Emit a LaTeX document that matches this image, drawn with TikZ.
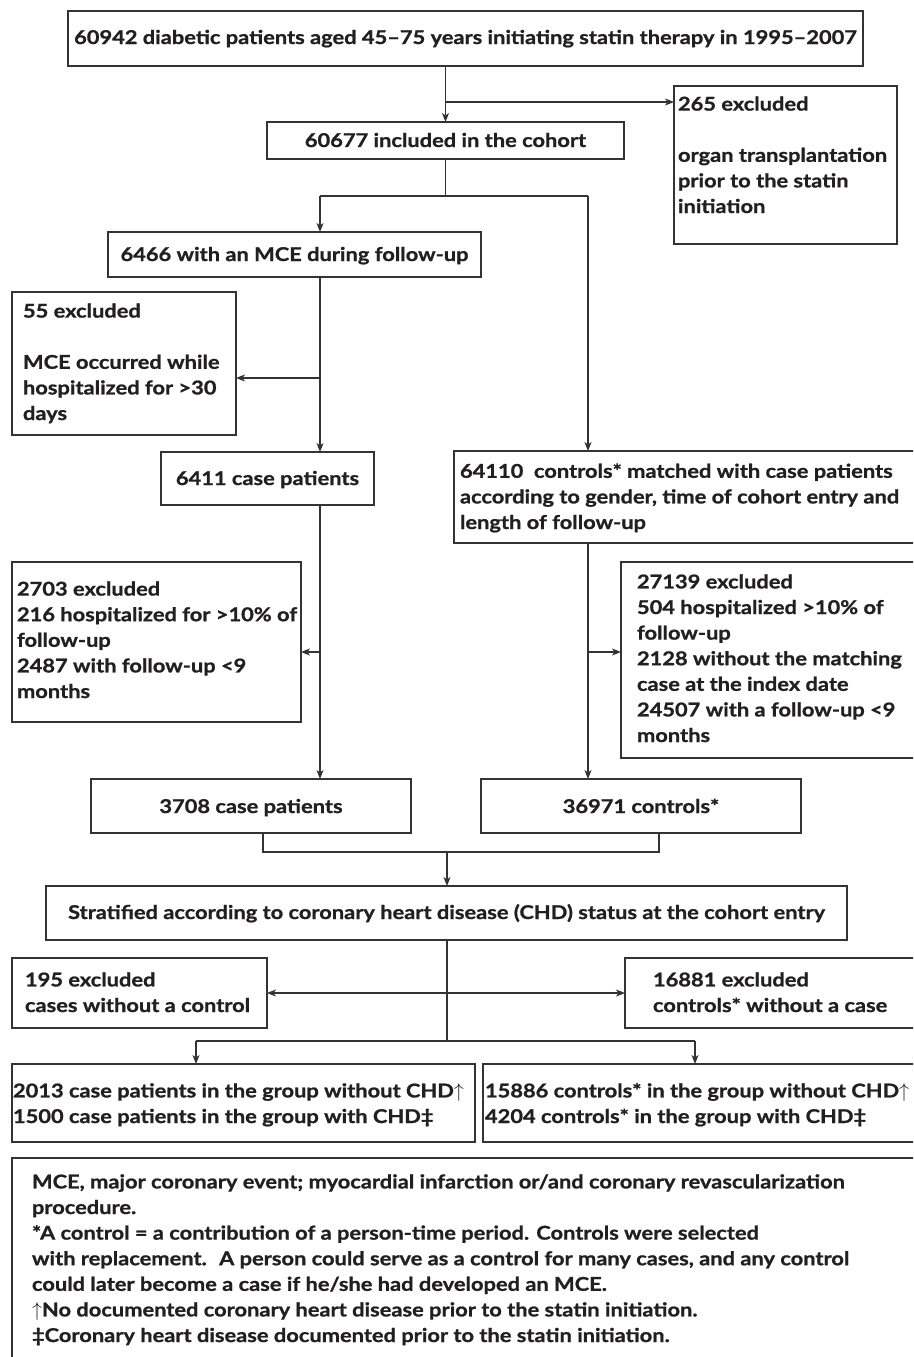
\RequirePackage{fix-cm}
\documentclass[tikz,border=0pt]{standalone}
\usepackage{fontspec}
\setmainfont{Lato}[FakeStretch=1.15,BoldFeatures={FakeStretch=1.15,FakeBold=1}]
\usetikzlibrary{arrows.meta}
\definecolor{ink}{HTML}{231F20}
\definecolor{edge}{HTML}{333333}
\newcommand{\fs}{\fontsize{19}{25.6}\selectfont\bfseries}
\newcommand{\upmark}{{\fontsize{20}{20}\selectfont$\uparrow$}}
\begin{document}
\begin{tikzpicture}[x=1pt,y=-1pt,
  box/.style={draw=edge,line width=1.2pt,rectangle,inner sep=0pt,outer sep=0pt},
  txt/.style={inner sep=0pt,outer sep=0pt,anchor=base west,align=left,font=\fs,text=ink},
  ctxt/.style={inner sep=0pt,outer sep=0pt,anchor=base,font=\fs,text=ink},
  link/.style={draw=edge,line width=1.1pt},
  arr/.style={link,-{Stealth[length=9pt,width=7pt,inset=2.5pt]}},
  darr/.style={link,{Stealth[length=9pt,width=7pt,inset=2.5pt]}-{Stealth[length=9pt,width=7pt,inset=2.5pt]}}
]
\useasboundingbox (0,0) rectangle (913,1357);
\fill[white] (0,0) rectangle (913,1357);
\clip (0,0) rectangle (913,1357);

% boxes
\node[box,minimum width=795pt,minimum height=55pt] (b1) at (465.5,38.5) {};
\node[box,minimum width=357pt,minimum height=37pt] (b2) at (445.5,140.5) {};
\node[box,minimum width=223pt,minimum height=158pt] (ex1) at (785.5,165) {};
\node[box,minimum width=373pt,minimum height=45pt] (b3) at (294.5,254.5) {};
\node[box,minimum width=224pt,minimum height=143pt] (ex2) at (124,363.5) {};
\node[box,minimum width=213pt,minimum height=53pt] (b4) at (267.5,478.5) {};
\node[box,minimum width=486pt,minimum height=92pt] (ctrl) at (697,497) {};
\node[box,minimum width=289pt,minimum height=160pt] (ex3) at (156.5,642) {};
\node[box,minimum width=319pt,minimum height=196pt] (ex4) at (780.5,660) {};
\node[box,minimum width=320pt,minimum height=54pt] (b5) at (251,806) {};
\node[box,minimum width=320pt,minimum height=54pt] (b6) at (641,806) {};
\node[box,minimum width=801pt,minimum height=54pt] (strat) at (446.5,913) {};
\node[box,minimum width=255pt,minimum height=70pt] (ex5) at (139.5,993) {};
\node[box,minimum width=315pt,minimum height=70pt] (ex6) at (782.5,993) {};
\node[box,minimum width=463pt,minimum height=78pt] (g1) at (243.5,1103) {};
\node[box,minimum width=457pt,minimum height=78pt] (g2) at (711.5,1103) {};
\node[box,minimum width=928pt,minimum height=242pt] (foot) at (476,1279) {};

% texts (multi-line nodes are anchored at the baseline of their last line)
\node[ctxt] (t1) at (465.5,44) {60942 diabetic patients aged 45–75 years initiating statin therapy in 1995–2007};
\node[ctxt] (t2) at (445.5,147) {60677 included in the cohort};
\node[txt] (tex1) at (678,213) {265 excluded\\[25.6pt]organ transplantation\\prior to the statin\\initiation};
\node[ctxt] (t3) at (294.5,261) {6466 with an MCE during follow-up};
\node[txt] (tex2) at (23,420) {55 excluded\\[25.6pt]MCE occurred while\\hospitalized for >30\\days};
\node[ctxt] (t4) at (267.5,485) {6411 case patients};
\node[txt] (tctrl) at (460,529) {64110~ controls* matched with case patients\\according to gender, time of cohort entry and\\length of follow-up};
\node[txt] (tex3) at (17,698) {2703 excluded\\216 hospitalized for >10\% of\\follow-up\\2487 with follow-up <9\\months};
\node[txt] (tex4) at (637,742) {27139 excluded\\504 hospitalized >10\% of\\follow-up\\2128 without the matching\\case at the index date\\24507 with a follow-up <9\\months};
\node[ctxt] (t5) at (251,813) {3708 case patients};
\node[ctxt] (t6) at (641,813) {36971 controls*};
\node[ctxt] (tstrat) at (446.5,919) {Stratified according to coronary heart disease (CHD) status at the cohort entry};
\node[txt] (tex5) at (25,1012) {195 excluded\\cases without a control};
\node[txt] (tex6) at (653,1012) {16881 excluded\\controls* without a case};
\node[txt] (tg1) at (13,1123) {2013 case patients in the group without CHD\upmark\\1500 case patients in the group with CHD‡};
\node[txt] (tg2) at (485,1123) {15886 controls* in the group without CHD\upmark\\4204 controls* in the group with CHD‡};
\node[txt] (tfoot) at (32,1342) {MCE, major coronary event; myocardial infarction or/and coronary revascularization\\procedure.\\*A control = a contribution of a person-time period. Controls were selected\\with replacement.~ A person could serve as a control for many cases, and any control\\could later become a case if he/she had developed an MCE.\\\upmark No documented coronary heart disease prior to the statin initiation.\\‡Coronary heart disease documented prior to the statin initiation.};

% junction coordinates
\coordinate (j1) at (445.5,102);
\coordinate (j2) at (445.5,196);
\coordinate (j2L) at (320,196);
\coordinate (j2R) at (588,196);
\coordinate (j3) at (320,378);
\coordinate (j4) at (320,652);
\coordinate (j5) at (588,652);
\coordinate (j6L) at (263,852);
\coordinate (j6R) at (659,852);
\coordinate (j6) at (447,852);
\coordinate (j7) at (447,1041);
\coordinate (j7L) at (196,1041);
\coordinate (j7R) at (695,1041);

% connectors
\draw[arr] (b1.south -| b2.north) -- (b2.north);
\draw[arr] (j1) -- (j1 -| ex1.west);
\draw[link] (b2.south) -- (j2);
\draw[link] (j2L) -- (j2R);
\draw[arr] (j2L) -- (j2L |- b3.north);
\draw[arr] (j2R) -- (j2R |- ctrl.north);
\draw[arr] (b3.south -| j2L) -- (b4.north -| j2L);
\draw[arr] (j3) -- (j3 -| ex2.east);
\draw[arr] (b4.south -| j4) -- (b5.north -| j4);
\draw[arr] (j4) -- (j4 -| ex3.east);
\draw[arr] (ctrl.south -| j5) -- (b6.north -| j5);
\draw[arr] (j5) -- (j5 -| ex4.west);
\draw[link] (b5.south -| j6L) -- (j6L) -- (j6R) -- (b6.south -| j6R);
\draw[arr] (j6) -- (j6 |- strat.north);
\draw[link] (strat.south -| j7) -- (j7);
\draw[darr] (ex5.east) -- (ex6.west);
\draw[link] (j7L) -- (j7R);
\draw[arr] (j7L) -- (j7L |- g1.north);
\draw[arr] (j7R) -- (j7R |- g2.north);
\end{tikzpicture}
\end{document}
